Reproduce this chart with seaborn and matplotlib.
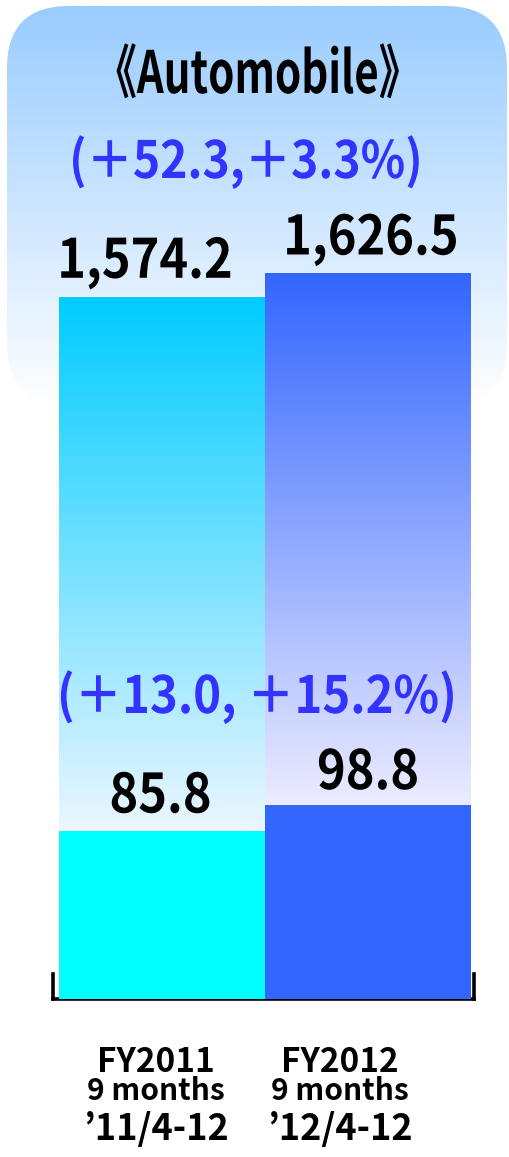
import numpy as np
import pandas as pd
import matplotlib
matplotlib.use("Agg")
import matplotlib.pyplot as plt
import seaborn as sns
from matplotlib.patches import FancyBboxPatch
from matplotlib.colors import to_rgb
from matplotlib.patheffects import AbstractPathEffect
from matplotlib.transforms import Affine2D, blended_transform_factory

# ---- data -------------------------------------------------------------
periods = ["FY2011", "FY2012"]
period_months = ["9 months", "9 months"]
period_ranges = ["\u201911/4-12", "\u201912/4-12"]
revenue = [1574.2, 1626.5]
income = [85.8, 98.8]
revenue_change = "(\uff0b52.3,\uff0b3.3%)"
income_change = "(\uff0b13.0, \uff0b15.2%)"
title = "\u300aAutomobile\u300b"

# ---- styling ----------------------------------------------------------
sns.set_theme(style="white")
FONT = ["Noto Sans CJK JP", "DejaVu Sans"]
plt.rcParams["font.family"] = FONT
plt.rcParams["font.weight"] = "bold"

bar_top_colors = ["#00CCFF", "#3366FF"]
bar_bottom_colors = ["#EBF6FF", "#ECECFF"]
income_colors = ["#00FFFF", "#3366FF"]
change_color = "#3333FF"


class Narrow(AbstractPathEffect):
    """Draw glyphs horizontally condensed around the centre of each line."""

    def __init__(self, sx):
        super().__init__()
        self.sx = sx

    def draw_path(self, renderer, gc, tpath, affine, rgbFace=None):
        ext = tpath.get_extents()
        cx = 0.5 * (ext.x0 + ext.x1)
        squeeze = Affine2D().translate(-cx, 0).scale(self.sx, 1).translate(cx, 0)
        renderer.draw_path(gc, tpath, squeeze + affine, rgbFace)


W, H, DPI = 510, 1157, 100
fig = plt.figure(figsize=(W / DPI, H / DPI), dpi=DPI)
fig.patch.set_facecolor("white")

# pixel-space layer for the rounded header panel and free-standing text
bg = fig.add_axes([0, 0, 1, 1], zorder=0)
bg.set_xlim(0, W)
bg.set_ylim(H, 0)
bg.axis("off")

panel = FancyBboxPatch((7, 6), 500, 400, boxstyle="round,pad=0,rounding_size=62",
                       facecolor="none", edgecolor="none")
bg.add_patch(panel)
top_rgb = np.array(to_rgb("#99CCFF"))
t = np.linspace(0, 1, 256)[:, None]
grad = top_rgb * (1 - t) + np.ones(3) * t
bg.imshow(grad[:, None, :].reshape(256, 1, 3), extent=[7, 507, 406, 6],
          aspect="auto", clip_path=panel, interpolation="bilinear", zorder=1)
bg.set_xlim(0, W)
bg.set_ylim(H, 0)

# ---- bar axes ---------------------------------------------------------
ax_left, ax_right, ax_bottom = 53, 474, 998.5
ax = fig.add_axes([ax_left / W, (H - ax_bottom) / H,
                   (ax_right - ax_left) / W, ax_bottom / H], zorder=2)
ax.patch.set_alpha(0)

df = pd.DataFrame({"period": periods, "revenue": revenue, "income": income})

sns.barplot(data=df, x="period", y="revenue", ax=ax, width=1.0,
            color="white", saturation=1, linewidth=0)
REV_MAX = 2240
INC_MAX = 510
ax.set_ylim(0, REV_MAX)

ax2 = ax.twinx()
ax2.patch.set_alpha(0)
sns.barplot(data=df, x="period", y="income", ax=ax2, width=1.0,
            hue="period", palette=income_colors, legend=False,
            saturation=1, linewidth=0)
ax2.set_ylim(0, INC_MAX)

XLIM = (-0.529, 1.515)
ax.set_xlim(*XLIM)
ax2.set_xlim(*XLIM)

# gradient fill for the revenue bars, fading down to the income bar top
for i, p in enumerate(ax.patches):
    x0, w, h = p.get_x(), p.get_width(), p.get_height()
    inc_top_disp = ax2.transData.transform((0, income[i]))
    lower = ax.transData.inverted().transform(inc_top_disp)[1]
    c0 = np.array(to_rgb(bar_bottom_colors[i]))
    c1 = np.array(to_rgb(bar_top_colors[i]))
    g = c0 * (1 - t) + c1 * t
    ax.imshow(g.reshape(256, 1, 3), extent=[x0, x0 + w, lower, h], origin="lower",
              aspect="auto", clip_path=p, interpolation="bilinear", zorder=1)
    p.set_facecolor("none")
ax.set_xlim(*XLIM)
ax.set_ylim(0, REV_MAX)

# axes frame: baseline with short end posts
for s in ["top"]:
    ax.spines[s].set_visible(False)
for s in ax2.spines.values():
    s.set_visible(False)
post = 25 / (ax_bottom / REV_MAX)
for s in ["left", "right", "bottom"]:
    ax.spines[s].set_visible(True)
    ax.spines[s].set_color("black")
    ax.spines[s].set_linewidth(2.6)
    ax.spines[s].set_capstyle("projecting")
    ax.spines[s].set_zorder(5)
ax.spines["left"].set_bounds(0, post)
ax.spines["right"].set_bounds(0, post)
for a in (ax, ax2):
    a.set_xlabel("")
    a.set_ylabel("")
    a.tick_params(left=False, right=False, bottom=False,
                  labelleft=False, labelright=False, labelbottom=False)
    a.grid(False)

# ---- value labels -------------------------------------------------------
rev_dx = [-17, 3]
for i, v in enumerate(revenue):
    ax.annotate(f"{v:,.1f}", (i, v), xytext=(rev_dx[i] * 0.72, 19 * 0.72),
                textcoords="offset points", ha="center", va="baseline",
                fontsize=39, fontweight="bold", color="black",
                path_effects=[Narrow(0.9)], zorder=6)

inc_dx = [-1.5, 0]
inc_dy = [18, 16]
for i, v in enumerate(income):
    ax2.annotate(f"{v:,.1f}", (i, v), xytext=(inc_dx[i] * 0.72, inc_dy[i] * 0.72),
                 textcoords="offset points", ha="center", va="baseline",
                 fontsize=39, fontweight="bold", color="black",
                 path_effects=[Narrow(0.9)], zorder=6)

# ---- header and change annotations ---------------------------------------
bg.text(258, 93, title, ha="center", va="baseline", fontsize=42,
        fontweight="bold", color="black", path_effects=[Narrow(0.72)], zorder=3)
bg.text(246, 178, revenue_change, ha="center", va="baseline", fontsize=37,
        fontweight="bold", color=change_color, path_effects=[Narrow(0.9)], zorder=3)
fig.text(257 / W, 1 - 713 / H, income_change, ha="center", va="baseline",
         fontsize=37, fontweight="bold", color=change_color,
         path_effects=[Narrow(0.92)], zorder=10)

# ---- category labels ------------------------------------------------------
tr = blended_transform_factory(ax.transData, bg.transData)
lab_dx = [-6 / 206, -28 / 206]
for i in range(len(periods)):
    xc = i + lab_dx[i]
    bg_y = [1072, 1100, 1140]
    ax.text(xc, bg_y[0], periods[i], transform=tr, ha="center", va="baseline",
            fontsize=24, fontweight="bold", color="black", clip_on=False)
    ax.text(xc, bg_y[1], period_months[i], transform=tr, ha="center", va="baseline",
            fontsize=21.5, fontweight="bold", color="black", clip_on=False)
    ax.text(xc, bg_y[2], period_ranges[i], transform=tr, ha="center", va="baseline",
            fontsize=26, fontweight="bold", color="black", clip_on=False)

fig.savefig("out.png", dpi=DPI, facecolor="white")
